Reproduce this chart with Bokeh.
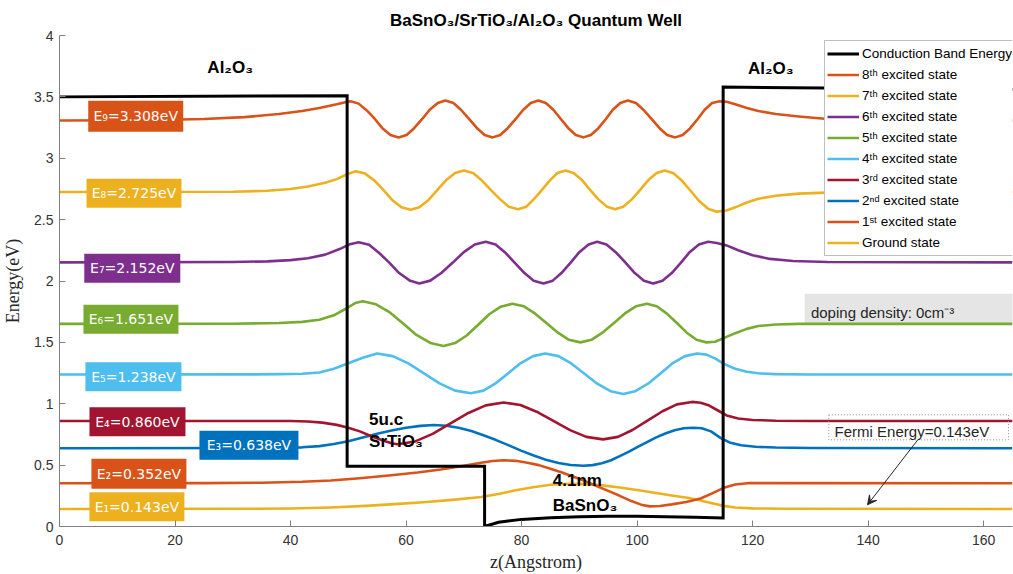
from bokeh.plotting import figure
from bokeh.models import (Range1d, FixedTicker, NumeralTickFormatter, Legend,
                          LegendItem, Arrow, VeeHead, ColumnDataSource)
from bokeh.core.properties import value
from bokeh.embed import file_html
from bokeh.resources import INLINE

# ---------------- data ----------------
X_TICKS = [0, 20, 40, 60, 80, 100, 120, 140, 160]
Y_TICKS = [0, 0.5, 1, 1.5, 2, 2.5, 3, 3.5, 4]

ENERGIES = [0.143, 0.352, 0.638, 0.860, 1.238, 1.651, 2.152, 2.725, 3.308]

CB_Z = [0, 49.8, 49.8, 73.6, 73.6, 76, 80, 85, 90, 95, 100, 105, 110, 114.9, 114.9, 165]
CB_V = [3.50, 3.51, 0.49, 0.49, 0.0, 0.035, 0.058, 0.072, 0.08, 0.084, 0.084, 0.08, 0.075, 0.07, 3.58, 3.56]

E1_Z = [0, 30, 40, 47, 53, 58, 63, 68, 73, 76, 79, 82, 85, 88, 91, 94, 97, 100, 103, 106, 109, 111, 113, 115, 117, 120, 126, 165]
E1_V = [0.143, 0.144, 0.147, 0.155, 0.168, 0.182, 0.198, 0.217, 0.24, 0.265, 0.295, 0.32, 0.34, 0.348, 0.345, 0.335, 0.318, 0.298, 0.275, 0.252, 0.232, 0.212, 0.19, 0.168, 0.155, 0.148, 0.144, 0.143]

E2_Z = [0, 25, 35, 42, 47, 52, 57, 62, 66, 70, 73, 75, 76.9, 79, 81, 83, 85, 87, 89, 91, 93, 95, 97, 99,
        100.7, 102.2, 104, 106, 108.5, 111, 113, 115, 117, 119.5, 123, 165]
E2_V = [0.352, 0.353, 0.357, 0.364, 0.375, 0.393, 0.415, 0.44, 0.465, 0.495, 0.52, 0.533, 0.54, 0.535, 0.52,
        0.50, 0.47, 0.44, 0.405, 0.37, 0.33, 0.29, 0.25, 0.207, 0.178, 0.164, 0.167, 0.18, 0.20, 0.228,
        0.27, 0.315, 0.342, 0.354, 0.353, 0.352]

E3_Z = [0, 38, 42, 45, 47.5, 50, 52.5, 55, 57.5, 60, 62.5, 64.8, 67.0, 69.1, 71.3, 73.4, 75.6, 77.8, 79.9,
        82.1, 84.2, 86.4, 88.5, 90.7, 92.3, 93.9, 95.5, 97.0, 98.6, 100.2, 101.8, 103.4, 105.0, 106.5, 108.1,
        109.7, 111.2, 112.8, 114.5, 116, 118, 120.5, 124, 130, 165]
E3_V = [0.638, 0.64, 0.645, 0.655, 0.672, 0.695, 0.725, 0.755, 0.782, 0.805, 0.82, 0.827, 0.821, 0.805,
        0.778, 0.744, 0.704, 0.661, 0.618, 0.578, 0.544, 0.517, 0.501, 0.495, 0.50, 0.516, 0.54, 0.573,
        0.61, 0.65, 0.69, 0.728, 0.76, 0.784, 0.80, 0.805, 0.80, 0.775, 0.72, 0.685, 0.662, 0.65, 0.643,
        0.639, 0.638]

E4_Z = [0, 35, 40, 43, 45.5, 48, 50, 52, 54, 56, 57.5, 58.5, 61.6, 64.6, 67.7, 70.8, 73.8, 76.9, 79.8,
        82.6, 85.5, 88.4, 91.2, 94.1, 96.7, 99.2, 101.8, 104.4, 106.9, 109.5, 111, 112.5, 114, 115.5,
        117.5, 120, 124, 130, 165]
E4_V = [0.86, 0.86, 0.86, 0.856, 0.846, 0.828, 0.805, 0.775, 0.735, 0.70, 0.678, 0.67, 0.693, 0.755,
        0.84, 0.925, 0.987, 1.01, 0.99, 0.935, 0.86, 0.785, 0.73, 0.71, 0.73, 0.786, 0.863, 0.939, 0.995,
        1.015, 1.008, 0.985, 0.945, 0.905, 0.88, 0.868, 0.862, 0.86, 0.86]

E5_Z = [0, 32, 38, 42, 45, 47.5, 50, 52.5, 55.0, 57.7, 60.4, 63.1, 65.8, 68.5, 71.2, 73.4, 75.5, 77.7,
        79.8, 82.0, 84.1, 86.4, 88.6, 90.9, 93.1, 95.4, 97.6, 99.7, 101.9, 104.0, 106.1, 108.3, 110.4,
        112, 113.5, 115, 117, 119, 121, 124, 130, 165]
E5_V = [1.238, 1.239, 1.241, 1.245, 1.255, 1.285, 1.33, 1.375, 1.41, 1.388, 1.329, 1.248, 1.166, 1.107,
        1.085, 1.107, 1.166, 1.248, 1.329, 1.388, 1.41, 1.388, 1.328, 1.245, 1.163, 1.102, 1.08, 1.102,
        1.163, 1.245, 1.328, 1.388, 1.41, 1.40, 1.37, 1.325, 1.285, 1.26, 1.248, 1.241, 1.238, 1.238]

E6_Z = [0, 30, 38, 42, 45, 47.5, 49.8, 51.2, 52.5, 54.8, 57.2, 59.5, 61.8, 64.2, 66.5, 68.5, 70.5, 72.5,
        74.4, 76.4, 78.4, 80.4, 82.3, 84.3, 86.3, 88.2, 90.2, 92.1, 94.0, 96.0, 97.9, 99.8, 101.7, 103.4,
        105.1, 106.9, 108.6, 110.3, 112.0, 113.5, 115, 117, 119, 121, 124, 128, 165]
E6_V = [1.651, 1.652, 1.658, 1.667, 1.685, 1.72, 1.78, 1.82, 1.835, 1.81, 1.744, 1.653, 1.561, 1.495,
        1.47, 1.494, 1.556, 1.643, 1.729, 1.791, 1.815, 1.794, 1.736, 1.658, 1.579, 1.521, 1.50, 1.521,
        1.579, 1.658, 1.736, 1.794, 1.815, 1.794, 1.736, 1.658, 1.579, 1.521, 1.50, 1.505, 1.535, 1.575,
        1.61, 1.633, 1.646, 1.651, 1.651]

E7_Z = [0, 30, 36, 40, 43, 46, 48.5, 50.3, 51.8, 53.6, 55.3, 57.1, 58.8, 60.6, 62.3, 64.2, 66.1, 68.1,
        70.0, 71.9, 73.8, 75.5, 77.1, 78.8, 80.5, 82.1, 83.8, 85.4, 86.9, 88.5, 90.0, 91.6, 93.1, 94.7,
        96.3, 98.0, 99.6, 101.2, 102.8, 104.4, 106.0, 107.6, 109.1, 110.7, 112.3, 113.8, 115.5, 117.5,
        120, 123, 127, 133, 165]
E7_V = [2.152, 2.155, 2.16, 2.17, 2.185, 2.215, 2.26, 2.30, 2.315, 2.295, 2.23, 2.15, 2.065, 2.005, 1.98,
        2.003, 2.065, 2.15, 2.235, 2.297, 2.32, 2.297, 2.235, 2.15, 2.065, 2.003, 1.98, 2.003, 2.065, 2.15,
        2.235, 2.297, 2.32, 2.297, 2.235, 2.15, 2.065, 2.003, 1.98, 2.003, 2.065, 2.15, 2.235, 2.297, 2.32,
        2.31, 2.29, 2.25, 2.21, 2.18, 2.163, 2.155, 2.152]

E8_Z = [0, 30, 36, 40, 43, 46, 48, 49.8, 51.3, 52.9, 54.5, 56.1, 57.6, 59.2, 60.8, 62.3, 63.9, 65.4, 66.9,
        68.5, 70.0, 71.6, 73.1, 74.7, 76.3, 77.8, 79.4, 80.8, 82.1, 83.5, 84.9, 86.2, 87.6, 89.0, 90.5,
        91.9, 93.3, 94.8, 96.2, 97.6, 99.1, 100.5, 101.9, 103.4, 104.8, 106.3, 107.8, 109.3, 110.8, 112.3,
        113.8, 115.5, 117, 119, 121, 124, 128, 134, 145, 165]
E8_V = [2.725, 2.727, 2.735, 2.75, 2.77, 2.80, 2.83, 2.87, 2.895, 2.875, 2.82, 2.74, 2.66, 2.60, 2.58,
        2.60, 2.66, 2.74, 2.82, 2.88, 2.90, 2.88, 2.82, 2.74, 2.665, 2.605, 2.585, 2.605, 2.665, 2.74,
        2.82, 2.88, 2.90, 2.88, 2.82, 2.74, 2.665, 2.605, 2.585, 2.605, 2.665, 2.74, 2.82, 2.88, 2.90,
        2.877, 2.816, 2.733, 2.649, 2.588, 2.565, 2.575, 2.60, 2.64, 2.67, 2.695, 2.712, 2.722, 2.725, 2.725]

E9_Z = [0, 15, 25, 32, 38, 42, 45, 48, 49.3, 50.4, 51.8, 53.2, 54.6, 55.9, 57.3, 58.7, 60.1, 61.4, 62.8,
        64.1, 65.5, 66.8, 68.2, 69.5, 70.9, 72.3, 73.6, 75.0, 76.3, 77.6, 79.0, 80.3, 81.6, 82.9, 84.2,
        85.5, 86.8, 88.1, 89.4, 90.7, 92.0, 93.3, 94.6, 95.8, 97.1, 98.4, 99.8, 101.1, 102.5, 103.9,
        105.2, 106.6, 107.9, 109.2, 110.5, 111.7, 113.0, 114.3, 115.5, 117, 119, 121, 124, 128, 133, 140, 165]
E9_V = [3.308, 3.31, 3.32, 3.335, 3.36, 3.385, 3.41, 3.44, 3.455, 3.465, 3.445, 3.39, 3.32, 3.245, 3.19,
        3.17, 3.19, 3.245, 3.32, 3.395, 3.45, 3.47, 3.45, 3.395, 3.32, 3.245, 3.19, 3.17, 3.19, 3.245,
        3.32, 3.395, 3.45, 3.47, 3.45, 3.395, 3.32, 3.245, 3.19, 3.17, 3.19, 3.245, 3.32, 3.395, 3.45,
        3.47, 3.45, 3.395, 3.32, 3.245, 3.19, 3.17, 3.19, 3.245, 3.32, 3.395, 3.45, 3.465, 3.46, 3.44,
        3.41, 3.385, 3.36, 3.34, 3.32, 3.311, 3.308]

STATE_Z = [E1_Z, E2_Z, E3_Z, E4_Z, E5_Z, E6_Z, E7_Z, E8_Z, E9_Z]
STATE_V = [E1_V, E2_V, E3_V, E4_V, E5_V, E6_V, E7_V, E8_V, E9_V]
STATE_NAMES = ["Ground state", "1ˢᵗ excited state", "2ⁿᵈ excited state", "3ʳᵈ excited state",
               "4ᵗʰ excited state", "5ᵗʰ excited state", "6ᵗʰ excited state", "7ᵗʰ excited state",
               "8ᵗʰ excited state"]
SUBS = ["₁", "₂", "₃", "₄", "₅", "₆", "₇", "₈", "₉"]

# ---------------- styling / layout ----------------
STATE_COLORS = ["#EDB120", "#D95319", "#0072BD", "#A2142F", "#4DBEEE",
                "#77AC30", "#7E2F8E", "#EDB120", "#D95319"]
LABEL_Z = [13.4, 13.75, 32.8, 13.5, 12.8, 12.37, 12.6, 12.9, 13.2]
LABEL_E = [0.160, 0.429, 0.662, 0.853, 1.22, 1.688, 2.103, 2.714, 3.342]
LABEL_W = [95, 95, 99, 96, 96, 95, 96, 95, 95]
LABEL_H = [29, 30, 29, 29, 29, 29, 29, 29, 31]

SANS = "Liberation Sans"
SERIF = "Liberation Serif"
AX = "#808080"
TXT = "#262626"

p = figure(width=1013, height=574, x_range=Range1d(0, 165), y_range=Range1d(0, 4),
           output_backend="svg", toolbar_location=None,
           min_border_left=58, min_border_right=1, min_border_top=35, min_border_bottom=48,
           background_fill_color="white", border_fill_color="white")
p.outline_line_color = None
p.xgrid.visible = False
p.ygrid.visible = False

p.title.text = "BaSnO₃/SrTiO₃/Al₂O₃ Quantum Well"
p.title.align = "center"
p.title.text_font = SANS
p.title.text_font_size = "17px"
p.title.text_font_style = "bold"
p.title.text_color = "black"
p.title.standoff = 11
p.title.offset = 6

for ax in (p.xaxis, p.yaxis):
    ax.axis_line_color = AX
    ax.major_tick_line_color = AX
    ax.major_tick_in = 6
    ax.major_tick_out = 0
    ax.minor_tick_line_color = None
    ax.major_label_text_font = SANS
    ax.major_label_text_font_size = "14px"
    ax.major_label_text_color = "#333333"
    ax.axis_label_text_font = SERIF
    ax.axis_label_text_font_size = "18px"
    ax.axis_label_text_font_style = "normal"
    ax.axis_label_text_color = TXT

p.xaxis.ticker = FixedTicker(ticks=X_TICKS)
p.yaxis.ticker = FixedTicker(ticks=Y_TICKS)
p.yaxis.formatter = NumeralTickFormatter(format="0.[0]")
p.xaxis.major_label_standoff = 8
p.yaxis.major_label_standoff = 6
p.xaxis.axis_label = "z(Angstrom)"
p.yaxis.axis_label = "Energy(eV)"
p.xaxis.axis_label_standoff = 4
p.yaxis.axis_label_standoff = 8

# doping density box (behind lines)
p.quad(left=[129.0], right=[166], top=[1.896], bottom=[1.655], fill_color="#e5e5e5", line_color=None)

# states
state_renderers = []
for zs, vs, col in zip(STATE_Z, STATE_V, STATE_COLORS):
    n = min(len(zs), len(vs))
    r = p.line(zs[:n], vs[:n], line_color=col, line_width=2.6, line_join="round")
    state_renderers.append(r)

# conduction band
n = min(len(CB_Z), len(CB_V))
cb = p.line(CB_Z[:n], CB_V[:n], line_color="black", line_width=3, line_join="miter")

# energy label boxes
lab = ColumnDataSource(dict(
    x=LABEL_Z, y=LABEL_E, w=LABEL_W, h=LABEL_H, c=STATE_COLORS,
    t=["E%s=%.3feV" % (s, e) for s, e in zip(SUBS, ENERGIES)]))
p.rect(x="x", y="y", width="w", height="h", width_units="screen", height_units="screen",
       fill_color="c", line_color=None, source=lab)
p.text(x="x", y="y", text="t", text_align="center", text_baseline="middle",
       text_color="white", text_font=value("DejaVu Sans"), text_font_size="14px", source=lab)

# material annotations
ann = ColumnDataSource(dict(
    x=[25.6, 119.2, 53.6, 53.6, 85.4, 85.4],
    y=[3.737, 3.729, 0.868, 0.692, 0.373, 0.17],
    t=["Al₂O₃", "Al₂O₃", "5u.c", "SrTiO₃", "4.1nm", "BaSnO₃"]))
p.text(x="x", y="y", text="t", text_align="left", text_baseline="alphabetic",
       text_color="black", text_font=value(SANS), text_font_style="bold",
       text_font_size="17px", source=ann)

# doping density text
p.text(x=[130.1], y=[1.745], text=["doping density: 0cm⁻³"], text_align="left",
       text_baseline="alphabetic", text_color=TXT, text_font=value(SANS), text_font_size="15px")

# Fermi energy box + arrow
p.quad(left=[133.2], right=[164.3], top=[0.91], bottom=[0.706], fill_color=None,
       line_color="#8c8c8c", line_dash="1 2", line_width=1)
p.text(x=[134.2], y=[0.778], text=["Fermi Energy=0.143eV"], text_align="left",
       text_baseline="alphabetic", text_color=TXT, text_font=value(SANS), text_font_size="15px")
p.add_layout(Arrow(end=VeeHead(size=9, line_color=TXT, fill_color=TXT, line_width=1),
                   x_start=148.6, y_start=0.706, x_end=139.9, y_end=0.177,
                   line_color=TXT, line_width=1))

# legend
items = [LegendItem(label="Conduction Band Energy", renderers=[cb])]
for i in range(8, -1, -1):
    items.append(LegendItem(label=STATE_NAMES[i], renderers=[state_renderers[i]]))
legend = Legend(items=items, location=(765, 270), orientation="vertical",
                label_text_font=SANS, label_text_font_size="13.5px", label_text_color="black",
                label_height=21, glyph_height=21, glyph_width=32, label_standoff=3,
                spacing=0, padding=2, margin=0,
                border_line_color="#808080", border_line_width=1,
                background_fill_color="white", background_fill_alpha=1)
p.add_layout(legend, "center")

open("out.html", "w").write(file_html(p, INLINE))
